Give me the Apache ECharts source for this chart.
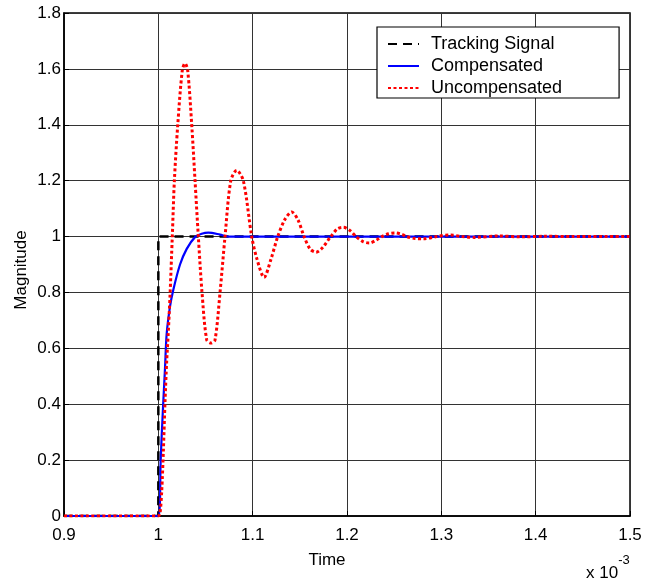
<!DOCTYPE html>
<html>
<head>
<meta charset="utf-8">
<script src="https://cdn.jsdelivr.net/npm/echarts@6/dist/echarts.min.js"></script>
<style>html,body{margin:0;padding:0;background:#fff;}#c{width:659px;height:582px;}</style>
</head>
<body>
<div id="c"></div>
<script>
// time in units of 1e-3 s
var xTicks = [0.9, 1.0, 1.1, 1.2, 1.3, 1.4, 1.5];
var yTicks = [0, 0.2, 0.4, 0.6, 0.8, 1, 1.2, 1.4, 1.6, 1.8];

var tTrack = [0.9, 1.0, 1.0, 1.5];
var yTrack = [0, 0, 1, 1];

var tComp = [0.9, 1.0, 1.0025, 1.0036, 1.0053, 1.0071, 1.0088, 1.0124, 1.0159, 1.023, 1.0301, 1.0389, 1.046, 1.053, 1.0654, 1.0742, 1.1, 1.5];
var yComp = [0, 0, 0.2, 0.29, 0.41, 0.53, 0.65, 0.75, 0.81, 0.9, 0.956, 0.998, 1.01, 1.014, 1.007, 1.0, 1.0, 1.0];

var tUncomp = [0.9, 1.0, 1.0018, 1.0036, 1.0053, 1.0071, 1.0088, 1.0106, 1.0124, 1.0148, 1.017, 1.0206, 1.0254, 1.0283, 1.0311, 1.0354, 1.0389, 1.0424, 1.0463, 1.0513, 1.0559, 1.0601, 1.0654, 1.0707, 1.0768, 1.0831, 1.0901, 1.099, 1.1045, 1.1121, 1.1195, 1.1266, 1.134, 1.1414, 1.148, 1.1545, 1.161, 1.1672, 1.174, 1.1828, 1.19, 1.1962, 1.203, 1.2096, 1.217, 1.2238, 1.231, 1.2369, 1.244, 1.251, 1.258, 1.2633, 1.272, 1.281, 1.295, 1.309, 1.322, 1.335, 1.36, 1.385, 1.41, 1.44, 1.5];
var yUncomp = [0, 0, 0.01, 0.09, 0.23, 0.41, 0.55, 0.66, 0.79, 1.0, 1.2, 1.4, 1.595, 1.62, 1.595, 1.4, 1.2, 1.0, 0.8, 0.63, 0.619, 0.63, 0.8, 1.0, 1.2, 1.237, 1.2, 1.0, 0.92, 0.854, 0.92, 1.0, 1.06, 1.088, 1.06, 1.0, 0.955, 0.944, 0.96, 1.0, 1.028, 1.033, 1.022, 1.0, 0.982, 0.977, 0.987, 1.0, 1.01, 1.013, 1.008, 1.0, 0.993, 0.992, 1.0, 1.006, 1.0, 0.997, 1.002, 0.999, 1.001, 1.0, 1.0];

function zip(a, b) { return a.map(function (v, i) { return [v, b[i]]; }); }

var FONT = 'Liberation Sans, Arial, sans-serif';
var chart = echarts.init(document.getElementById('c'), null, { renderer: 'canvas' });
chart.setOption({
  animation: false,
  backgroundColor: '#fff',
  grid: { left: 64, right: 29, top: 13, bottom: 66, show: true, borderColor: '#000', borderWidth: 1.5, backgroundColor: 'transparent' },
  xAxis: {
    type: 'value', min: xTicks[0], max: xTicks[xTicks.length - 1], interval: 0.1,
    axisLine: { show: true, lineStyle: { color: '#000', width: 1.5 } },
    axisTick: { show: true, inside: true, length: 5, lineStyle: { color: '#000' } },
    splitLine: { show: true, lineStyle: { color: '#333', width: 1 } },
    axisLabel: { color: '#000', fontSize: 17, fontFamily: FONT, margin: 11,
      formatter: function (v) { return String(Math.round(v * 10) / 10); } }
  },
  yAxis: {
    type: 'value', min: yTicks[0], max: yTicks[yTicks.length - 1], interval: 0.2,
    axisLine: { show: true, lineStyle: { color: '#000', width: 1.5 } },
    axisTick: { show: true, inside: true, length: 5, lineStyle: { color: '#000' } },
    splitLine: { show: true, lineStyle: { color: '#333', width: 1 } },
    axisLabel: { color: '#000', fontSize: 17, fontFamily: FONT, margin: 3,
      formatter: function (v) { return String(Math.round(v * 10) / 10); } }
  },
  legend: {
    orient: 'vertical', left: 377, top: 27,
    backgroundColor: '#fff', borderColor: '#000', borderWidth: 1.2,
    padding: [8, 57, 1, 10], itemWidth: 31, itemHeight: 14, itemGap: 4,
    itemStyle: { opacity: 0 },
    textStyle: { color: '#000', fontSize: 18, fontFamily: FONT, padding: [0, 0, 0, 7] },
    data: ['Tracking Signal', 'Compensated', 'Uncompensated']
  },
  graphic: [{
    type: 'text', left: 586, top: 554,
    style: {
      text: '{a|x 10}{b|-3}',
      rich: {
        a: { fontSize: 17, fontFamily: FONT, fill: '#000', padding: [11, 0, 0, 0] },
        b: { fontSize: 13, fontFamily: FONT, fill: '#000', verticalAlign: 'top', padding: [0, 0, 9, 0] }
      }
    }
  }, {
    type: 'text', x: 327, y: 560,
    style: { text: 'Time', fontSize: 17, fontFamily: FONT, fill: '#000', align: 'center', verticalAlign: 'middle' }
  }, {
    type: 'text', x: 21, y: 270, rotation: Math.PI / 2,
    style: { text: 'Magnitude', fontSize: 17, fontFamily: FONT, fill: '#000', align: 'center', verticalAlign: 'middle' }
  }],
  series: [
    { name: 'Tracking Signal', type: 'line', data: zip(tTrack, yTrack), symbol: 'none', showSymbol: false,
      lineStyle: { color: '#000', width: 2.5, type: [9, 6] }, itemStyle: { color: '#000' }, z: 2 },
    { name: 'Compensated', type: 'line', data: zip(tComp, yComp), symbol: 'none', showSymbol: false, smooth: 0.3,
      lineStyle: { color: '#0000ff', width: 2.2 }, itemStyle: { color: '#0000ff' }, z: 3 },
    { name: 'Uncompensated', type: 'line', data: zip(tUncomp, yUncomp), symbol: 'none', showSymbol: false, smooth: 0.3,
      lineStyle: { color: '#ff0000', width: 3, type: [3, 2.5] }, itemStyle: { color: '#ff0000' }, z: 4 }
  ]
});
</script>
</body>
</html>
